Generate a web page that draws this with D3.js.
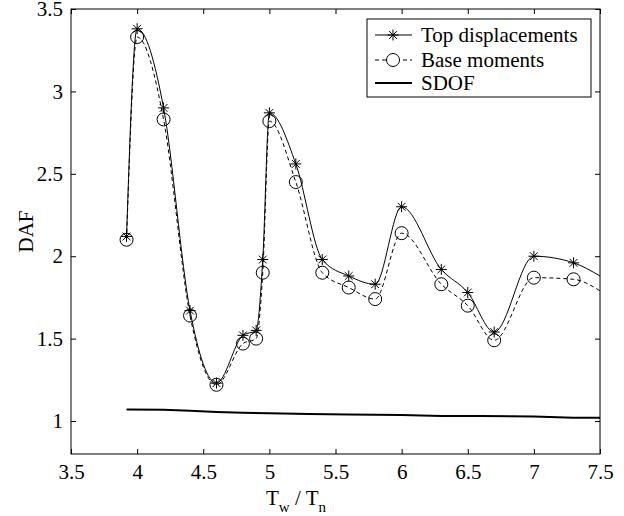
<!DOCTYPE html>
<html>
<head>
<meta charset="utf-8">
<script src="https://cdn.jsdelivr.net/npm/d3@7"></script>
<style>
  html, body { margin: 0; padding: 0; background: #fff; }
  svg text { font-family: "Liberation Serif", "Times New Roman", serif; fill: #000; }
</style>
</head>
<body>
<div id="chart"></div>
<script>
// data
const periodRatio = [3.92, 4.0, 4.2, 4.4, 4.6, 4.8, 4.9, 4.95, 5.0, 5.2, 5.4, 5.6, 5.8, 6.0, 6.3, 6.5, 6.7, 7.0, 7.3, 7.5];
const topDisp     = [2.12, 3.38, 2.90, 1.67, 1.23, 1.52, 1.55, 1.98, 2.87, 2.56, 1.98, 1.88, 1.83, 2.30, 1.92, 1.78, 1.54, 2.00, 1.96, 1.88];
const baseMom     = [2.10, 3.33, 2.83, 1.64, 1.22, 1.47, 1.50, 1.90, 2.82, 2.45, 1.90, 1.81, 1.74, 2.14, 1.83, 1.70, 1.49, 1.87, 1.86, 1.79];

const sdofX = [3.92, 4.2, 4.4, 4.6, 4.8, 5.0, 5.3, 5.6, 6.0, 6.3, 6.6, 7.0, 7.3, 7.5];
const sdofY = [1.07, 1.068, 1.062, 1.055, 1.05, 1.048, 1.043, 1.04, 1.036, 1.03, 1.03, 1.028, 1.02, 1.02];

const xTicks = [3.5, 4, 4.5, 5, 5.5, 6, 6.5, 7, 7.5];
const yTicks = [1, 1.5, 2, 2.5, 3, 3.5];
const legendLabels = ["Top displacements", "Base moments", "SDOF"];

// ukuran
const W = 624, H = 516;
const margin = { top: 9, right: 24, bottom: 62, left: 71 };
const width  = W - margin.left - margin.right;
const height = H - margin.top - margin.bottom;
const FS = 21;

const svg = d3.select("#chart").append("svg")
  .attr("width", W).attr("height", H);

const g = svg.append("g")
  .attr("transform", `translate(${margin.left},${margin.top})`);

const x = d3.scaleLinear().domain([3.5, 7.5]).range([0, width]);
const y = d3.scaleLinear().domain([0.8, 3.5]).range([height, 0]);

// sumbu - ticks inward on all four sides
const axB = g.append("g").attr("transform", `translate(0,${height})`)
  .call(d3.axisBottom(x).tickValues(xTicks).tickSize(-5).tickPadding(10).tickFormat(d3.format("")));
const axT = g.append("g")
  .call(d3.axisTop(x).tickValues(xTicks).tickSize(-5).tickFormat(""));
const axL = g.append("g")
  .call(d3.axisLeft(y).tickValues(yTicks).tickSize(-5).tickPadding(8).tickFormat(d3.format("")));
const axR = g.append("g").attr("transform", `translate(${width},0)`)
  .call(d3.axisRight(y).tickValues(yTicks).tickSize(-5).tickFormat(""));

[axB, axT, axL, axR].forEach(a => {
  a.select(".domain").remove();
  a.selectAll("line").attr("stroke", "#000").attr("stroke-width", 1);
  a.selectAll("text").attr("font-size", FS).attr("font-family", "Liberation Serif");
});

// kotak
g.append("rect")
  .attr("x", 0).attr("y", 0).attr("width", width).attr("height", height)
  .attr("fill", "none").attr("stroke", "#000").attr("stroke-width", 1);

// label sumbu
const xl = svg.append("text")
  .attr("x", 266).attr("y", 505)
  .attr("font-size", FS);
xl.append("tspan").text("T");
xl.append("tspan").attr("font-size", 15).attr("dy", 7).text("w");
xl.append("tspan").attr("dy", -7).text(" / T");
xl.append("tspan").attr("font-size", 15).attr("dy", 7).text("n");

svg.append("text")
  .attr("transform", `translate(33,${margin.top + height / 2}) rotate(-90)`)
  .attr("text-anchor", "middle")
  .attr("font-size", FS)
  .text("DAF");

// series
const topData  = periodRatio.map((d, i) => ({ x: d, y: topDisp[i] }));
const baseData = periodRatio.map((d, i) => ({ x: d, y: baseMom[i] }));
const sdofData = sdofX.map((d, i) => ({ x: d, y: sdofY[i] }));

const smooth = d3.line().x(d => x(d.x)).y(d => y(d.y)).curve(d3.curveMonotoneX);
const straight = d3.line().x(d => x(d.x)).y(d => y(d.y));

g.append("path").datum(sdofData)
  .attr("d", straight).attr("fill", "none")
  .attr("stroke", "#000").attr("stroke-width", 2);

g.append("path").datum(baseData)
  .attr("d", smooth).attr("fill", "none")
  .attr("stroke", "#000").attr("stroke-width", 1)
  .attr("stroke-dasharray", "4,3");

g.append("path").datum(topData)
  .attr("d", smooth).attr("fill", "none")
  .attr("stroke", "#000").attr("stroke-width", 1);

// penanda (the last point sits on the border, no marker there)
function star(sel, r) {
  const d = r * 0.7071;
  sel.append("path")
    .attr("d", `M${-r},0H${r}M0,${-r}V${r}M${-d},${-d}L${d},${d}M${-d},${d}L${d},${-d}`)
    .attr("stroke", "#000").attr("stroke-width", 1).attr("fill", "none");
}

g.selectAll(".circ").data(baseData.filter(d => d.x < 7.5)).enter()
  .append("circle").attr("class", "circ")
  .attr("cx", d => x(d.x)).attr("cy", d => y(d.y)).attr("r", 6.5)
  .attr("fill", "none").attr("stroke", "#000").attr("stroke-width", 1);

g.selectAll(".star").data(topData.filter(d => d.x < 7.5)).enter()
  .append("g").attr("class", "star")
  .attr("transform", d => `translate(${x(d.x)},${y(d.y)})`)
  .each(function() { star(d3.select(this), 5.5); });

// legenda
const lg = svg.append("g").attr("transform", "translate(367,19)");
lg.append("rect").attr("width", 224).attr("height", 78)
  .attr("fill", "#fff").attr("stroke", "#000").attr("stroke-width", 1);

const rowsY = [16, 41, 64];
legendLabels.forEach((lab, i) => {
  const ry = rowsY[i];
  const ln = lg.append("line").attr("x1", 8).attr("x2", 45).attr("y1", ry).attr("y2", ry)
    .attr("stroke", "#000").attr("stroke-width", i === 2 ? 2 : 1);
  if (i === 1) ln.attr("stroke-dasharray", "4,3");
  if (i === 0) star(lg.append("g").attr("transform", `translate(26,${ry})`), 5.5);
  if (i === 1) lg.append("circle").attr("cx", 26).attr("cy", ry).attr("r", 6.5)
    .attr("fill", "#fff").attr("stroke", "#000");
  lg.append("text").attr("x", 54).attr("y", ry).attr("dy", "0.35em")
    .attr("font-size", FS).text(lab);
});
</script>
</body>
</html>
